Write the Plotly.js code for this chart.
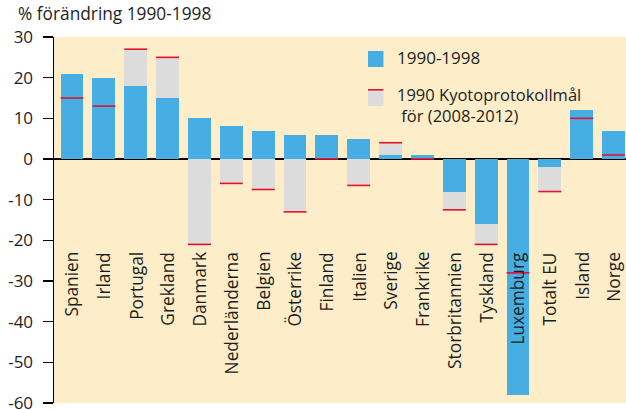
<!DOCTYPE html>
<html>
<head>
<meta charset="utf-8">
<script src="https://cdn.plot.ly/plotly-3.0.1.min.js"></script>
<style>html,body{margin:0;padding:0;background:#fff;}#chart{width:626px;height:410px;}</style>
</head>
<body>
<div id="chart"></div>
<script>
const categories = ['Spanien','Irland','Portugal','Grekland','Danmark','Nederländerna','Belgien','Österrike','Finland','Italien','Sverige','Frankrike','Storbritannien','Tyskland','Luxemburg','Totalt EU','Island','Norge'];
const change1990_1998 = [21,20,18,15,10,8,7,6,6,5,1,1,-8,-16,-58,-2,12,7];
const kyotoTarget = [15,13,27,25,-21,-6,-7.5,-13,0,-6.5,4,0,-12.5,-21,-28,-8,10,1];
const yTickVals = [30,20,10,0,-10,-20,-30,-40,-50,-60];
const yTickText = ['30','20','10','0','-10','-20','-30','-40','-50','-60'];
const titleText = '% förändring 1990-1998';
const legendLabel1 = '1990-1998';
const legendLabel2 = '1990 Kyotoprotokollmål<br>\u00a0för (2008-2012)';

const W = 626, H = 410;
const M = {l:54, r:0, t:37, b:7};
const PW = W - M.l - M.r, PH = H - M.t - M.b;
const px = x => (x - M.l) / PW;
const py = y => (H - M.b - y) / PH;

const BLUE = '#47aee4', GRAY = '#dcdcdc', RED = '#e3122d', BG = '#fdedc8', TXT = '#1e1e1e';
const FONT = 'Open Sans, sans-serif';
const idx = categories.map((c,i)=>i);

const traces = [
  {type:'bar', x:idx, y:kyotoTarget, width:0.72, marker:{color:GRAY, line:{width:0}}, hoverinfo:'skip', showlegend:false},
  {type:'bar', x:idx, y:change1990_1998, width:0.72, marker:{color:BLUE, line:{width:0}}, hoverinfo:'skip', showlegend:false},
  {type:'scatter', mode:'markers', x:idx, y:kyotoTarget, marker:{symbol:'line-ew', size:16.4, line:{width:1.6, color:RED}}, hoverinfo:'skip', showlegend:false}
];

const annotations = categories.map((c,i)=>({
  x:i, y:-22.4, xref:'x', yref:'y', text:c, showarrow:false, textangle:-90,
  xanchor:'center', yanchor:'top', font:{family:FONT, size:17.3, color:TXT}
}));
annotations.push(
  {x:px(395), y:py(57.5), xref:'paper', yref:'paper', text:legendLabel1, showarrow:false, xanchor:'left', yanchor:'middle', font:{family:FONT, size:17, color:TXT}},
  {x:px(395), y:py(105), xref:'paper', yref:'paper', text:legendLabel2, showarrow:false, xanchor:'left', yanchor:'middle', align:'left', font:{family:FONT, size:16.5, color:TXT}}
);

const shapes = [
  {type:'rect', xref:'paper', yref:'paper', x0:px(368), x1:px(383.5), y0:py(51), y1:py(67), fillcolor:BLUE, line:{width:0}},
  {type:'rect', xref:'paper', yref:'paper', x0:px(368), x1:px(383.5), y0:py(89.5), y1:py(106), fillcolor:GRAY, line:{width:0}},
  {type:'line', xref:'paper', yref:'paper', x0:px(368), x1:px(383.5), y0:py(89.8), y1:py(89.8), line:{width:1.6, color:RED}}
];

const layout = {
  width:W, height:H, margin:M,
  paper_bgcolor:'#ffffff', plot_bgcolor:BG,
  barmode:'overlay', bargap:0,
  showlegend:false,
  title:{text:titleText, xref:'container', yref:'container', x:18/W, xanchor:'left', y:1-13.5/H, yanchor:'middle', font:{family:FONT, size:17.3, color:TXT}},
  xaxis:{range:[-0.565,17.39], showticklabels:false, showgrid:false, zeroline:false, showline:false, ticks:'', fixedrange:true},
  yaxis:{range:[-60,30], tickvals:yTickVals, ticktext:yTickText, showgrid:false, zeroline:true, zerolinecolor:'#000', zerolinewidth:1.5,
         showline:true, linecolor:'#000', linewidth:1.5, ticks:'outside', ticklen:10, tickwidth:1.5, tickcolor:'#000',
         ticklabelstandoff:6, ticklabeloverflow:'allow', tickfont:{family:FONT, size:17, color:TXT}, fixedrange:true},
  annotations:annotations, shapes:shapes
};
Plotly.newPlot('chart', traces, layout, {displayModeBar:false, staticPlot:true});
</script>
</body>
</html>
